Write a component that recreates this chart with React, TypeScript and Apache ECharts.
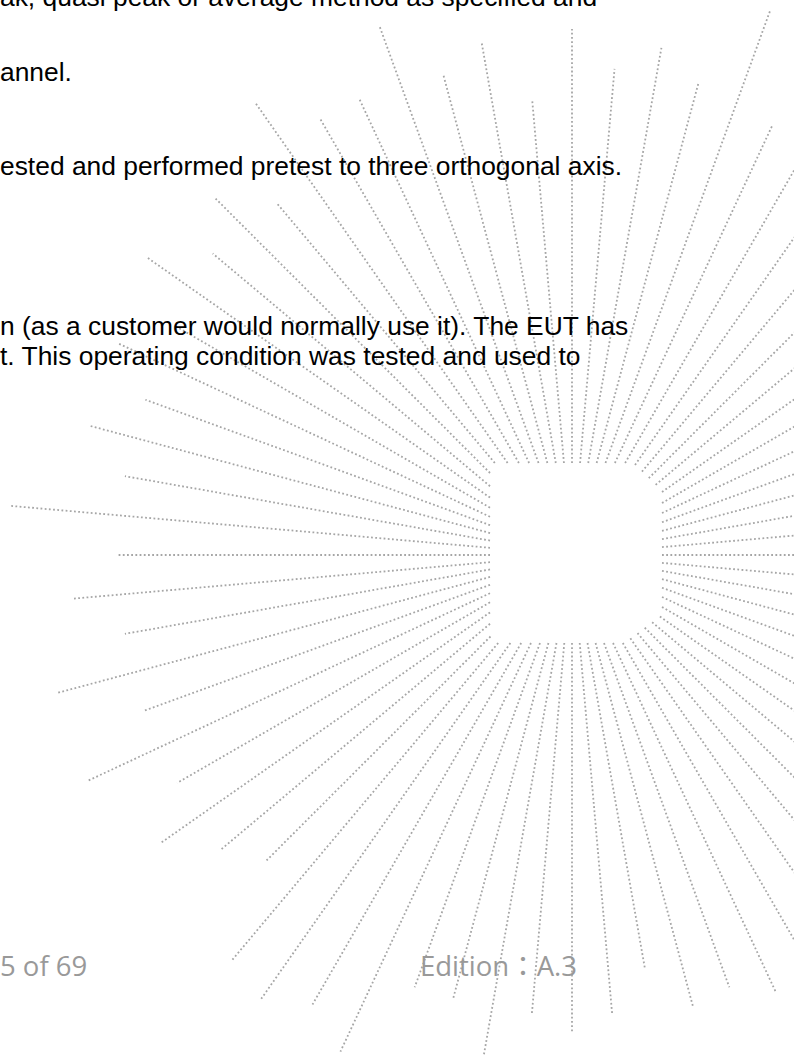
import React, { useEffect, useRef } from "react";
import * as echarts from "echarts";

// Ray directions of the dotted watermark burst (degrees, counter-clockwise from east)
const rayAngles = [
  0, 5, 10, 15, 20, 25, 30, 35, 40, 45, 50, 55,
  60, 65, 70, 75, 80, 85, 90, 95, 100, 105, 110, 115,
  120, 125, 130, 135, 140, 145, 150, 155, 160, 165, 170, 175,
  180, 185, 190, 195, 200, 205, 210, 215, 220, 225, 230, 235,
  240, 245, 250, 255, 260, 265, 270, 275, 280, 285, 290, 295,
  300, 305, 310, 315, 320, 325, 330, 335, 340, 345, 350, 355,
];
// Outer reach of every ray, measured from the burst centre (px)
const rayLengths = [
  520, 520, 520, 520, 520, 520, 520, 520, 520, 520, 520, 520,
  520, 474, 580, 490, 515, 488, 526, 457, 521, 498, 562, 504,
  505, 551, 460, 504, 469, 520, 460, 500, 454, 500, 454, 564,
  454, 501, 454, 532, 455, 535, 456, 503, 458, 432, 529, 544,
  519, 548, 460, 460, 507, 460, 477, 461, 419, 468, 460, 482,
  520, 520, 520, 520, 520, 520, 520, 520, 520, 520, 520, 520,
];

const bodyLines = [
  "ak, quasi peak or average method as specified and",
  "annel.",
  "ested and performed pretest to three orthogonal axis.",
  "n (as a customer would normally use it). The EUT has",
  "t. This operating condition was tested and used to",
];
const bodyBaselines = [6, 81, 175, 335, 365];

const pageLabel = "5 of 69";
const editionLabel = "Edition：A.3";

// inner hole outline, offsets from burst centre (screen px)
const HOLE = [
  [-82, -92], [61, -92], [90, -64], [90, 60], [52, 88], [-75, 88], [-82, 81],
];

function holeDistance(ux: number, uy: number): number {
  let best = 0;
  for (let i = 0; i < HOLE.length; i++) {
    const [ax, ay] = HOLE[i];
    const [bx, by] = HOLE[(i + 1) % HOLE.length];
    const ex = bx - ax, ey = by - ay;
    const den = ux * ey - uy * ex;
    if (Math.abs(den) < 1e-9) continue;
    const t = (ax * ey - ay * ex) / den;
    const s = (ax * uy - ay * ux) / den;
    if (t > 0 && s >= -1e-6 && s <= 1 + 1e-6) {
      if (best === 0 || t < best) best = t;
    }
  }
  return best;
}

export default function App() {
  const ref = useRef<HTMLDivElement>(null);
  useEffect(() => {
    if (!ref.current) return;
    const chart = echarts.init(ref.current, null, { renderer: "svg" });
    const data = rayAngles.map((a, i) => [a, rayLengths[i]]);
    const BODY_FS = 26.4;
    const FOOT_FS = 27.5;
    const textEls: any[] = bodyLines.map((t, i) => ({
      type: "text",
      z: 10,
      style: {
        text: t,
        x: 0,
        y: bodyBaselines[i] - 0.3465 * BODY_FS,
        fontFamily: "Liberation Sans, Arial, sans-serif",
        fontSize: BODY_FS,
        fill: "#000000",
        align: "left",
        verticalAlign: "middle",
      },
    }));
    textEls.push({
      type: "text",
      z: 10,
      style: {
        text: pageLabel,
        x: 0,
        y: 976 - 0.388 * FOOT_FS,
        fontFamily: "Open Sans, Noto Sans, sans-serif",
        fontSize: FOOT_FS,
        fill: "#999999",
        align: "left",
        verticalAlign: "middle",
      },
    });
    textEls.push({
      type: "text",
      z: 10,
      style: {
        text: editionLabel,
        x: 420,
        y: 976 - 0.388 * FOOT_FS,
        fontFamily: "Open Sans, Noto Sans CJK TC, sans-serif",
        fontSize: FOOT_FS,
        fill: "#999999",
        align: "left",
        verticalAlign: "middle",
      },
    });
    chart.setOption({
      animation: false,
      backgroundColor: "#ffffff",
      polar: { center: [572, 555], radius: 600 },
      angleAxis: {
        type: "value",
        min: 0,
        max: 360,
        startAngle: 0,
        clockwise: false,
        axisLine: { show: false },
        axisTick: { show: false },
        axisLabel: { show: false },
        splitLine: { show: false },
      },
      radiusAxis: {
        type: "value",
        min: 0,
        max: 600,
        axisLine: { show: false },
        axisTick: { show: false },
        axisLabel: { show: false },
        splitLine: { show: false },
      },
      series: [
        {
          type: "custom",
          coordinateSystem: "polar",
          encode: { angle: 0, radius: 1 },
          data,
          renderItem: (params: any, api: any) => {
            const ang = api.value(0);
            const len = api.value(1);
            const c = api.coord([0, ang]);
            const o = api.coord([len, ang]);
            const dx = o[0] - c[0], dy = o[1] - c[1];
            const L = Math.hypot(dx, dy);
            const ux = dx / L, uy = dy / L;
            const t = holeDistance(ux, uy);
            return {
              type: "line",
              shape: { x1: c[0] + ux * t, y1: c[1] + uy * t, x2: o[0], y2: o[1] },
              style: { stroke: "#a6a6a6", lineWidth: 1.8, lineDash: [1.8, 2.4], fill: null },
            };
          },
        },
      ],
      graphic: { elements: textEls },
    });
    return () => chart.dispose();
  }, []);
  return (
    <div
      ref={ref}
      style={{ position: "fixed", left: 0, top: 0, width: 794, height: 1057, background: "#fff" }}
    />
  );
}
